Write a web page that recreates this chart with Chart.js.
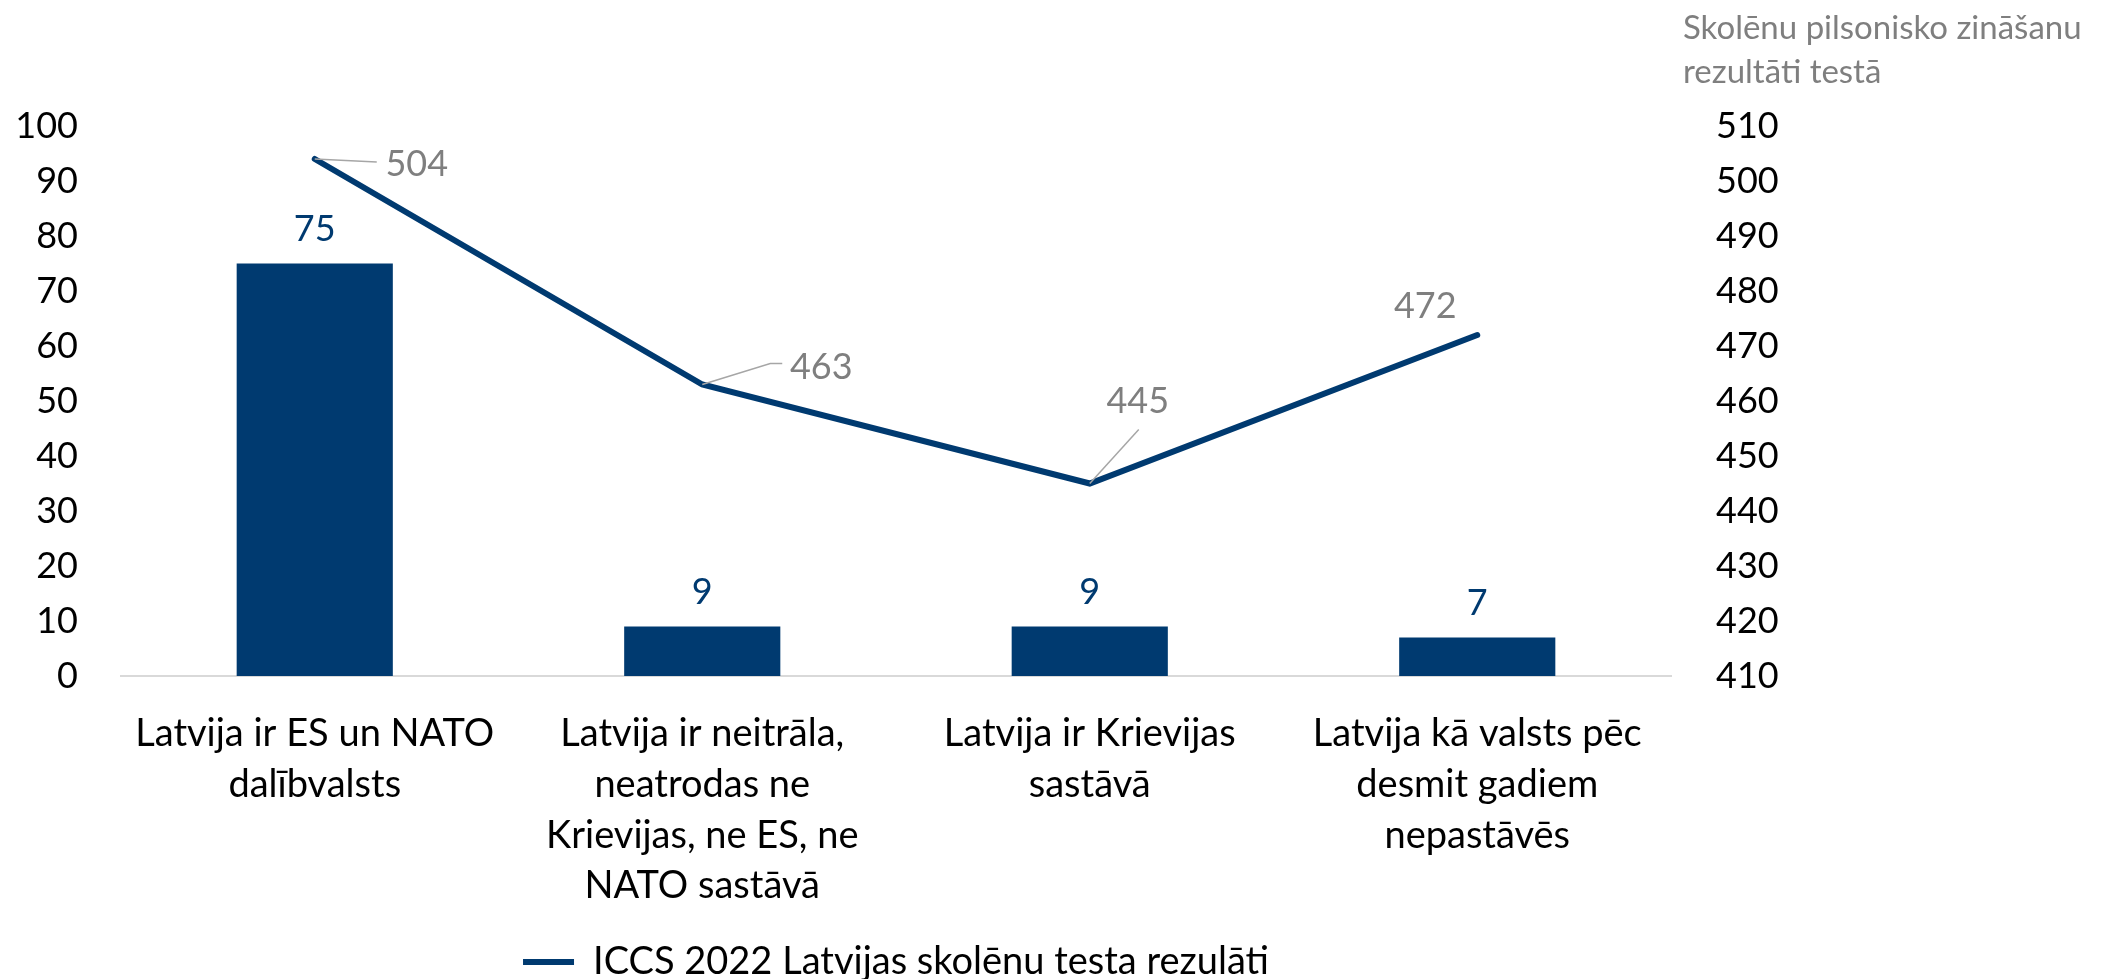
<!DOCTYPE html>
<html>
<head>
<meta charset="utf-8">
<script src="https://cdn.jsdelivr.net/npm/chart.js@4"></script>
<style>
    html, body { margin: 0; padding: 0; background: #fff; }
    .chart-box { width: 2105px; height: 979px; position: relative; }
</style>
</head>
<body>
<div class="chart-box"><canvas id="iccsChart"></canvas></div>
<script>
// Data
const categories = [
    ['Latvija ir ES un NATO', 'dalībvalsts'],
    ['Latvija ir neitrāla,', 'neatrodas ne', 'Krievijas, ne ES, ne', 'NATO sastāvā'],
    ['Latvija ir Krievijas', 'sastāvā'],
    ['Latvija kā valsts pēc', 'desmit gadiem', 'nepastāvēs']
];
const shareValues = [75, 9, 9, 7];
const testScores = [504, 463, 445, 472];
const leftTicks = [0, 10, 20, 30, 40, 50, 60, 70, 80, 90, 100];
const rightTicks = [410, 420, 430, 440, 450, 460, 470, 480, 490, 500, 510];
const lineLabel = 'ICCS 2022 Latvijas skolēnu testa rezulāti';
const rightTitle = ['Skolēnu pilsonisko zināšanu', 'rezultāti testā'];

const FONT = 'Lato';
const BLUE = '#003A70';
const GREY = '#7F7F7F';

// where the score labels sit relative to their point, plus leader line
const scoreLabelPos = [
    { dx: 102, dy: 5, leader: [[62, 3]] },
    { dx: 119, dy: -17, leader: [[68, -21], [80, -21]] },
    { dx: 48, dy: -82, leader: [[49, -54]] },
    { dx: -52, dy: -29, leader: null }
];

const valueLabels = {
    id: 'valueLabels',
    afterDatasetsDraw(chart) {
        const ctx = chart.ctx;
        ctx.save();
        ctx.font = '36px ' + FONT;
        ctx.textAlign = 'center';

        // bar values
        const barMeta = chart.getDatasetMeta(1);
        barMeta.data.forEach((bar, i) => {
            ctx.fillStyle = BLUE;
            ctx.textBaseline = 'alphabetic';
            ctx.fillText(shareValues[i], bar.x, bar.y - 23);
        });

        // line values with leader lines
        const lineMeta = chart.getDatasetMeta(0);
        lineMeta.data.forEach((pt, i) => {
            const pos = scoreLabelPos[i];
            if (pos.leader) {
                ctx.strokeStyle = '#A6A6A6';
                ctx.lineWidth = 1.5;
                ctx.beginPath();
                ctx.moveTo(pt.x, pt.y);
                pos.leader.forEach(p => ctx.lineTo(pt.x + p[0], pt.y + p[1]));
                ctx.stroke();
            }
            ctx.fillStyle = GREY;
            ctx.textBaseline = 'middle';
            ctx.fillText(testScores[i], pt.x + pos.dx, pt.y + pos.dy);
        });

        // right axis title
        ctx.fillStyle = GREY;
        ctx.font = '33px ' + FONT;
        ctx.textAlign = 'left';
        ctx.textBaseline = 'alphabetic';
        ctx.fillText(rightTitle[0], 1683, 39);
        ctx.fillText(rightTitle[1], 1683, 83);
        ctx.restore();
    }
};

const ctx = document.getElementById('iccsChart').getContext('2d');
new Chart(ctx, {
    data: {
        labels: categories,
        datasets: [{
            type: 'line',
            label: lineLabel,
            data: testScores,
            yAxisID: 'y2',
            borderColor: BLUE,
            backgroundColor: BLUE,
            borderWidth: 6,
            borderCapStyle: 'round',
            pointRadius: 0,
            tension: 0,
            order: 0
        }, {
            type: 'bar',
            label: 'share',
            data: shareValues,
            yAxisID: 'y',
            backgroundColor: BLUE,
            categoryPercentage: 1,
            barPercentage: 0.403,
            order: 1
        }]
    },
    options: {
        responsive: true,
        maintainAspectRatio: false,
        animation: false,
        layout: { padding: { top: 126, left: 0, right: 0, bottom: -12 } },
        scales: {
            x: {
                grid: { display: false, drawTicks: false },
                border: { color: '#D9D9D9', width: 2 },
                ticks: {
                    color: '#000',
                    font: { family: FONT, size: 38, lineHeight: 1.34 },
                    maxRotation: 0,
                    autoSkip: false,
                    padding: 32
                },
                afterFit(scale) { scale.height = 265; }
            },
            y: {
                position: 'left',
                min: 0,
                max: 100,
                afterBuildTicks(scale) { scale.ticks = leftTicks.map(v => ({ value: v })); },
                grid: { display: false, drawTicks: false },
                border: { display: false },
                ticks: { color: '#000', font: { family: FONT, size: 36 }, padding: 43 },
                afterFit(scale) { scale.width = 121; }
            },
            y2: {
                position: 'right',
                min: 410,
                max: 510,
                afterBuildTicks(scale) { scale.ticks = rightTicks.map(v => ({ value: v })); },
                grid: { display: false, drawTicks: false },
                border: { display: false },
                ticks: { color: '#000', font: { family: FONT, size: 36 }, padding: 45 },
                afterFit(scale) { scale.width = 434; }
            }
        },
        plugins: {
            tooltip: { enabled: false },
            legend: {
                position: 'bottom',
                fullSize: false,
                labels: {
                    filter: item => item.datasetIndex === 0,
                    usePointStyle: true,
                    pointStyle: 'line',
                    pointStyleWidth: 51,
                    color: '#000',
                    font: { family: FONT, size: 38 },
                    padding: 2
                }
            }
        }
    },
    plugins: [valueLabels]
});
</script>
</body>
</html>
